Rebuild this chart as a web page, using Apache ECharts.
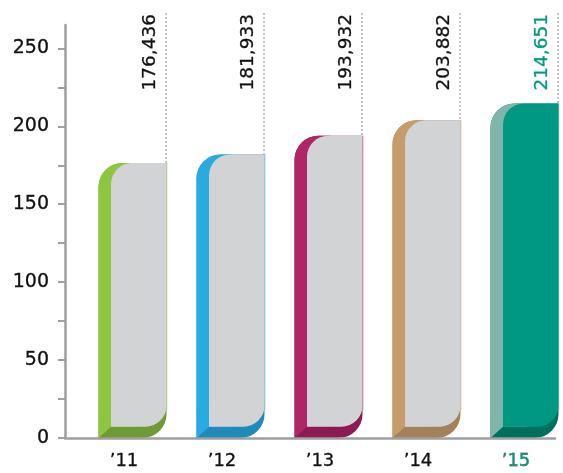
<!DOCTYPE html>
<html>
<head>
<meta charset="utf-8">
<style>
  html, body { margin: 0; padding: 0; background: #ffffff; }
  #chart { width: 563px; height: 473px; }
</style>
<script src="https://cdn.jsdelivr.net/npm/echarts@6/dist/echarts.min.js"></script>
</head>
<body>
<div id="chart"></div>
<script>
// Yearly totals (plotted in thousands on the value axis)
const years = ['\u201911', '\u201912', '\u201913', '\u201914', '\u201915'];
const totals = [176436, 181933, 193932, 203882, 214651];
const yTickValues = [0, 25, 50, 75, 100, 125, 150, 175, 200, 225, 250];
const yLabelValues = [0, 50, 100, 150, 200, 250];

// Palette per column: left edge, floor shade, front face, value label
const sideColors = ['#8dc63f', '#29abe2', '#ae2568', '#c69c6d', '#80b5a9'];
const floorColors = ['#6e9b35', '#1f8bbb', '#8e1a54', '#a3815a', '#006f5f'];
const faceColors = ['#d1d3d4', '#d1d3d4', '#d1d3d4', '#d1d3d4', '#009883'];
const labelColors = ['#111111', '#111111', '#111111', '#111111', '#00997f'];

const axisGray = '#9d9fa2';
const FONT = '"DejaVu Sans", "Liberation Sans", sans-serif';
const TEXT_WEIGHT = 0.3; // thin outline to darken the glyphs a little

function withCommas(n) {
  return String(n).replace(/\B(?=(\d{3})+(?!\d))/g, ',');
}

function renderColumn(params, api) {
  const i = params.dataIndex;
  const base = api.coord([i, 0]);
  const top = api.coord([i, api.value(1)]);
  const band = api.size([1, 0])[0];
  const cs = params.coordSys;

  const left = base[0] - band * 0.158;
  const w = band * 0.694;
  const right = left + w;
  const side = 12.5;
  const floor = 11.3;
  const r = 24;
  const fr = 21;
  const y0 = top[1];
  const yb = base[1];

  return {
    type: 'group',
    children: [
      // outer body, shaded as the floor
      { type: 'rect', shape: { x: left, y: y0, width: w, height: yb - y0, r: [r, 0, r, 0] },
        style: { fill: floorColors[i] } },
      // lit left edge
      { type: 'rect', shape: { x: left, y: y0, width: side + r, height: yb - y0, r: [r, 0, 0, 0] },
        style: { fill: sideColors[i] } },
      // bevelled floor under the face
      { type: 'polygon', shape: { points: [[left, yb], [left + side, yb - floor], [left + side + r + 1, yb - floor], [left + side + r + 1, yb]] },
        style: { fill: floorColors[i] } },
      // front face
      { type: 'rect', shape: { x: left + side, y: y0, width: w - side, height: yb - floor - y0, r: [fr, 0, fr, 0] },
        style: { fill: faceColors[i] } },
      // faint rim on the right edge
      { type: 'line', shape: { x1: right + 0.5, y1: y0, x2: right + 0.5, y2: yb - floor - fr + 4 },
        style: { stroke: sideColors[i], opacity: 0.4, lineWidth: 1 } },
      // dotted leader up to the value
      { type: 'line', shape: { x1: right - 0.5, y1: cs.y - 12, x2: right - 0.5, y2: y0 },
        style: { stroke: '#8c8c8c', lineWidth: 1, lineDash: [2, 2] } },
      // vertical value label
      { type: 'text', x: right - 16.3, y: cs.y - 11, rotation: Math.PI / 2,
        style: { text: withCommas(totals[i]), fill: labelColors[i], font: '18.5px ' + FONT,
                 stroke: labelColors[i], lineWidth: TEXT_WEIGHT,
                 align: 'right', verticalAlign: 'middle' } }
    ]
  };
}

const chart = echarts.init(document.getElementById('chart'), null, { renderer: 'canvas' });
chart.setOption({
  animation: false,
  backgroundColor: '#ffffff',
  grid: { left: 65, right: 8, top: 25, bottom: 35, containLabel: false },
  xAxis: {
    type: 'category',
    data: years,
    z: 5,
    axisLine: { show: true, lineStyle: { color: axisGray, width: 2.5 } },
    axisTick: { show: false },
    axisLabel: {
      margin: 14,
      fontSize: 18,
      fontFamily: FONT,
      padding: [0, 0, 0, 20],
      textBorderWidth: TEXT_WEIGHT,
      textBorderColor: function (value, index) { return labelColors[index]; },
      color: function (value, index) { return labelColors[index]; }
    },
    splitLine: { show: false }
  },
  yAxis: {
    type: 'value',
    min: 0,
    max: 265,
    z: 5,
    axisLine: { show: true, lineStyle: { color: axisGray, width: 2.5 } },
    axisTick: { show: true, customValues: yTickValues, length: 7, lineStyle: { color: axisGray, width: 2 } },
    axisLabel: { customValues: yLabelValues, margin: 16, fontSize: 19, fontFamily: FONT, color: '#111111',
                 textBorderColor: '#111111', textBorderWidth: TEXT_WEIGHT },
    splitLine: { show: false }
  },
  series: [{
    type: 'custom',
    clip: false,
    renderItem: renderColumn,
    encode: { x: 0, y: 1 },
    data: totals.map(function (t, i) { return [i, t / 1000]; })
  }]
});
</script>
</body>
</html>
